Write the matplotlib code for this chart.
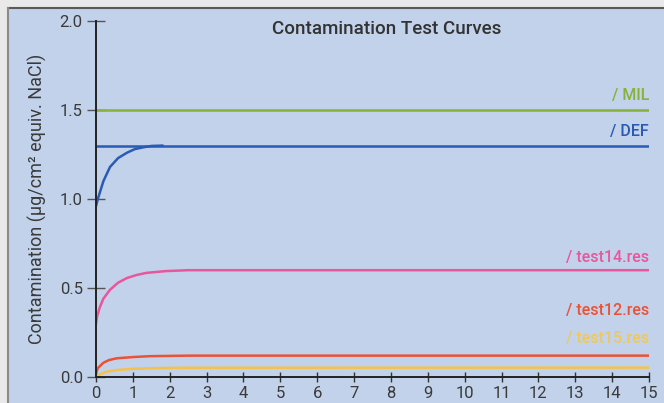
import matplotlib
matplotlib.use("Agg")
import matplotlib.pyplot as plt
from matplotlib.patches import Rectangle

plt.rcParams['font.family'] = ['Roboto', 'DejaVu Sans']

# --- data ---
mil_x = [0, 15]
mil_y = [1.5, 1.5]
def_line_x = [0, 15]
def_line_y = [1.3, 1.3]
def_curve_x = [0.0, 0.05, 0.11, 0.2, 0.38, 0.6, 0.84, 1.05, 1.27, 1.5, 1.8]
def_curve_y = [0.96, 1.0, 1.04, 1.10, 1.18, 1.23, 1.26, 1.28, 1.29, 1.298, 1.3]
test14_x = [0.0, 0.03, 0.1, 0.2, 0.38, 0.6, 0.84, 1.1, 1.37, 1.9, 2.5, 15]
test14_y = [0.30, 0.34, 0.39, 0.44, 0.49, 0.53, 0.556, 0.573, 0.585, 0.595, 0.6, 0.6]
test12_x = [0.0, 0.05, 0.2, 0.35, 0.56, 1.0, 1.46, 2.5, 15]
test12_y = [0.02, 0.05, 0.08, 0.095, 0.105, 0.112, 0.117, 0.12, 0.12]
test15_x = [0.0, 0.1, 0.3, 0.6, 1.0, 1.6, 2.4, 15]
test15_y = [0.0, 0.015, 0.03, 0.04, 0.046, 0.05, 0.052, 0.053]

labels = ['/ MIL', '/ DEF', '/ test14.res', '/ test12.res', '/ test15.res']
label_y = [1.58, 1.38, 0.67, 0.375, 0.215]

title = 'Contamination Test Curves'
ylabel = 'Contamination (µg/cm² equiv. NaCl)'
xticks = list(range(0, 16))
yticks = [0.0, 0.5, 1.0, 1.5, 2.0]
ytick_labels = ['0.0', '0.5', '1.0', '1.5', '2.0']

# colors
c_mil = '#86b23a'
c_def = '#2a5bb4'
c_t14 = '#e8569c'
c_t12 = '#ea5236'
c_t15 = '#f2c24c'
panel = '#c2d2ea'

fig = plt.figure(figsize=(6.64, 4.03), dpi=100)
fig.patch.set_facecolor('#e9e9e9')
# panel with dark edge on top/left
fig.add_artist(Rectangle((8/664, 0), 1, 1 - 8/403, transform=fig.transFigure,
                         facecolor=panel, edgecolor='none', zorder=-5))
fig.add_artist(plt.Line2D([8/664, 1], [1 - 8/403, 1 - 8/403], transform=fig.transFigure,
                          color='#5a5a5a', lw=1.5, zorder=-4))
fig.add_artist(plt.Line2D([8/664, 8/664], [0, 1 - 8/403], transform=fig.transFigure,
                          color='#8a8a8a', lw=1.5, zorder=-4))

ax = fig.add_axes([96/664, 1 - 377/403, (649 - 96)/664, (377 - 21)/403])
ax.set_zorder(2)
ax.set_facecolor('none')
ax.set_xlim(0, 15)
ax.set_ylim(0, 2.0)

lw = 1.8
ax.plot(mil_x, mil_y, color=c_mil, lw=lw)
ax.plot(def_line_x, def_line_y, color=c_def, lw=lw)
ax.plot(def_curve_x, def_curve_y, color=c_def, lw=lw)
ax.plot(test14_x, test14_y, color=c_t14, lw=lw)
ax.plot(test12_x, test12_y, color=c_t12, lw=lw)
ax.plot(test15_x, test15_y, color=c_t15, lw=lw)

for lab, yy, c in zip(labels, label_y, [c_mil, c_def, c_t14, c_t12, '#f0c85a']):
    ax.text(15, yy, lab, color=c, ha='right', va='center', fontsize=11.5,
            fontweight='medium')

for s in ['top', 'right']:
    ax.spines[s].set_visible(False)
for s in ['left', 'bottom']:
    ax.spines[s].set_color('#222222')
    ax.spines[s].set_linewidth(1.4)

ax.set_xticks(xticks)
ax.set_xticklabels([str(v) for v in xticks])
ax.set_yticks(yticks)
ax.set_yticklabels(ytick_labels)
ax.tick_params(axis='x', direction='inout', length=7, width=1, color='#333333',
               labelsize=12, labelcolor='#3a3a3a', pad=3)
ax.tick_params(axis='y', direction='inout', length=13, width=1, color='#555555',
               labelsize=12, labelcolor='#3a3a3a', pad=3)

ax.set_ylabel(ylabel, fontsize=13, color='#3a3a3a', labelpad=9)
fig.text(387/664, 1 - 29/403, title, ha='center', va='center', fontsize=13.5,
         color='#333333', fontweight='medium')

fig.savefig('out.png', dpi=100, facecolor=fig.get_facecolor())
